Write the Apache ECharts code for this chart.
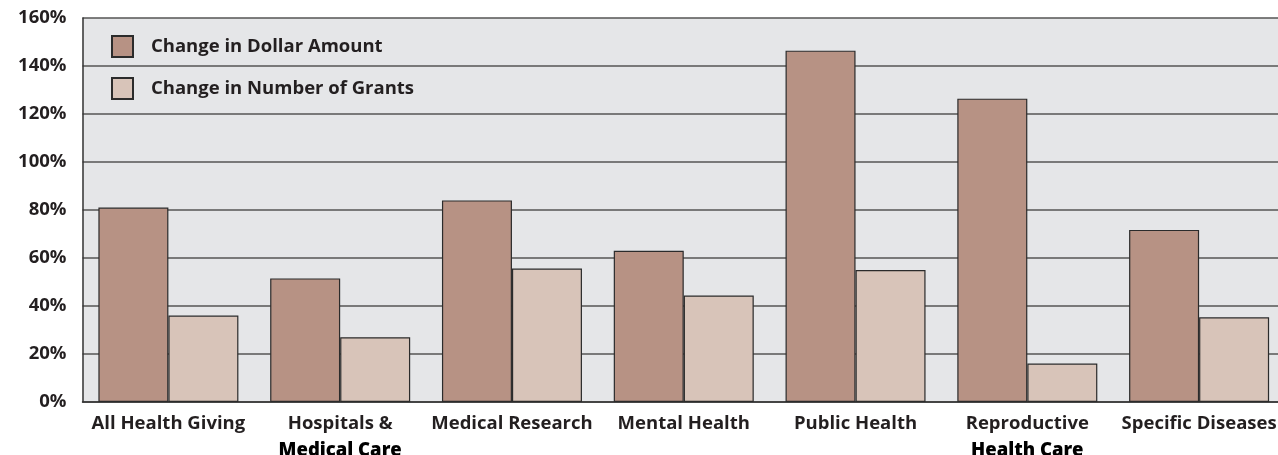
<!DOCTYPE html>
<html>
<head>
<meta charset="utf-8">
<script src="https://cdn.jsdelivr.net/npm/echarts@6/dist/echarts.min.js"></script>
<style>
html,body{margin:0;padding:0;background:#fff;}
#c{width:1278px;height:455px;}
</style>
</head>
<body>
<div id="c"></div>
<script>
const categories = ["All Health Giving", "Hospitals &\nMedical Care", "Medical Research", "Mental Health", "Public Health", "Reproductive\nHealth Care", "Specific Diseases"];
const dollarChange = [81, 51.5, 84, 63, 146.4, 126.4, 71.7];
const grantsChange = [36, 27, 55.6, 44.4, 55, 16, 35.3];
const seriesNames = ["Change in Dollar Amount", "Change in Number of Grants"];
const yTicks = [0, 20, 40, 60, 80, 100, 120, 140, 160];

const FONT = "'Open Sans', 'Noto Sans', sans-serif";
const TXT = '#231f20';

const chart = echarts.init(document.getElementById('c'), null, {renderer: 'canvas'});
chart.setOption({
  animation: false,
  backgroundColor: '#ffffff',
  grid: {
    left: 82.5, right: -7, top: 18, bottom: 53,
    outerBoundsMode: 'none', containLabel: false,
    show: true, backgroundColor: '#e5e6e8', borderWidth: 0
  },
  legend: {
    orient: 'vertical',
    left: 106, top: 30,
    itemWidth: 21, itemHeight: 21, itemGap: 19,
    icon: 'rect',
    data: seriesNames,
    textStyle: {fontFamily: FONT, fontSize: 18.5, fontWeight: 'bold', color: TXT, padding: [0,0,0,13]}
  },
  xAxis: {
    type: 'category',
    data: categories,
    axisLine: {lineStyle: {color: '#333', width: 1.5}},
    axisTick: {show: false},
    axisLabel: {
      interval: 0, margin: 8,
      fontFamily: FONT, fontSize: 18.5, fontWeight: 'bold', color: TXT, lineHeight: 27,
      formatter: function (v) {
        const parts = v.split('\n');
        if (parts.length > 1) return parts[0] + '\n{b|' + parts[1] + '}';
        return v;
      },
      rich: {b: {fontFamily: FONT, fontSize: 18.5, fontWeight: 800, color: '#000', lineHeight: 27}}
    }
  },
  yAxis: {
    type: 'value',
    min: yTicks[0], max: yTicks[yTicks.length - 1], interval: 20,
    axisLine: {show: true, lineStyle: {color: '#333', width: 1.5}},
    axisTick: {show: false},
    splitLine: {lineStyle: {color: '#555', width: 1.5}},
    axisLabel: {
      margin: 16,
      fontFamily: FONT, fontSize: 18.5, fontWeight: 'bold', color: TXT,
      formatter: '{value}%'
    }
  },
  series: [
    {
      name: seriesNames[0], type: 'bar', data: dollarChange,
      barGap: '0%', barCategoryGap: '18.5%',
      itemStyle: {color: '#b79284', borderColor: '#2b2b2b', borderWidth: 1.2}
    },
    {
      name: seriesNames[1], type: 'bar', data: grantsChange,
      barGap: '0%', barCategoryGap: '18.5%',
      itemStyle: {color: '#d8c4b9', borderColor: '#2b2b2b', borderWidth: 1.2}
    }
  ]
});
</script>
</body>
</html>
